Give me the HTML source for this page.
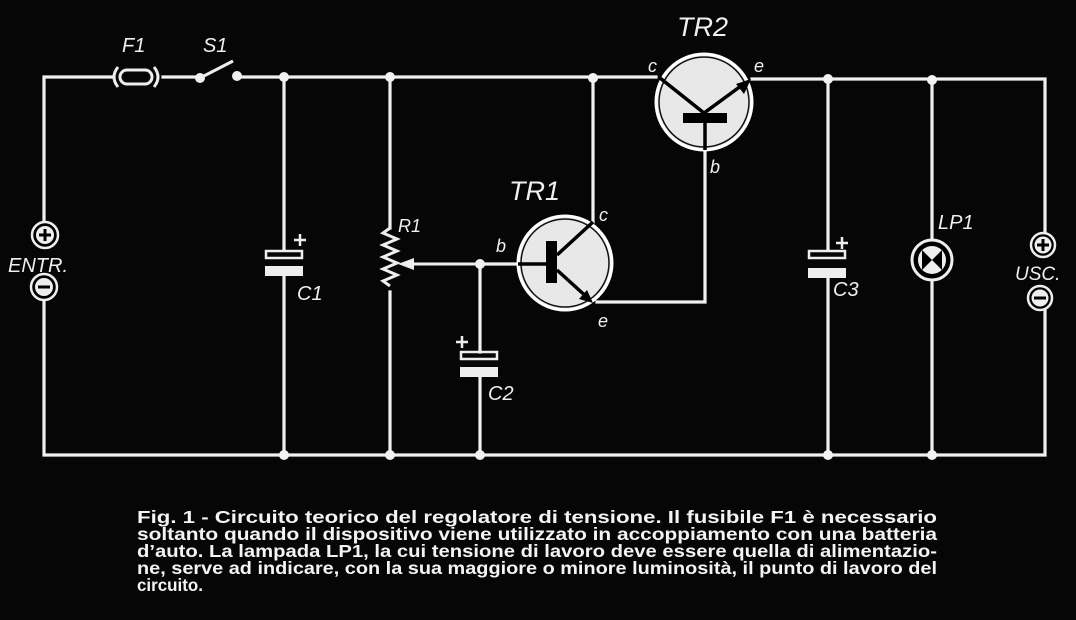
<!DOCTYPE html>
<html><head><meta charset="utf-8"><style>
html,body{margin:0;padding:0;background:#050505;}
svg{display:block}
</style></head><body>
<svg width="1076" height="620" viewBox="0 0 1076 620" xmlns="http://www.w3.org/2000/svg">
<rect width="1076" height="620" fill="#060606"/>
<g fill="none" stroke-linecap="square" stroke="#f0f0f0" stroke-width="3.2">
<path d="M44 225V77H112M163 77H200M237 77H656M752 79H1045V231M1045 310V455H44V300"/>
<path d="M284 77V250M284 276V455"/>
<path d="M390 77V228M390 292V455"/>
<path d="M593 78V222"/>
<path d="M828 79V250M828 276V455"/>
<path d="M932 80V240M932 280V455"/>
<path d="M480 264H518M480 264V352M480 377V455"/>
<path d="M597 302H705V150"/>
</g>
<g fill="#f2f2f2">
<circle cx="284" cy="77" r="5"/><circle cx="390" cy="77" r="5"/><circle cx="593" cy="78" r="5"/>
<circle cx="828" cy="79" r="5"/><circle cx="932" cy="80" r="5"/>
<circle cx="284" cy="455" r="5"/><circle cx="390" cy="455" r="5"/><circle cx="480" cy="455" r="5"/>
<circle cx="828" cy="455" r="5"/><circle cx="932" cy="455" r="5"/><circle cx="480" cy="264" r="5"/>
<circle cx="200" cy="78" r="5"/><circle cx="237" cy="76" r="5"/>
</g>
<g stroke="#eee" stroke-width="3" fill="none">
<rect x="120" y="70" width="32" height="14" rx="7"/>
<path d="M118 67 Q110 77 118 87M154 67 Q162 77 154 87"/>
<path d="M200 78L233 61"/>
</g>
<g stroke="#eee" stroke-width="2.5" fill="none">
<rect x="266" y="251" width="36" height="7"/>
<rect x="809" y="251" width="36" height="7"/>
<rect x="461" y="352" width="36" height="7"/>
<path d="M294 240h12M300 234v12M836 243h12M842 237v12M456 342h12M462 336v12"/>
</g>
<g fill="#eee">
<rect x="265" y="266" width="38" height="10"/>
<rect x="808" y="268" width="38" height="10"/>
<rect x="460" y="367" width="38" height="10"/>
</g>
<path d="M390 228 l-7 5 l14 6 l-14 6 l14 6 l-14 6 l14 6 l-14 6 l14 6 l-14 6 l7 5" stroke="#eee" stroke-width="3" fill="none"/>
<path d="M480 264H410" stroke="#eee" stroke-width="3"/>
<path d="M398 264l16-6v12z" fill="#eee"/>
<circle cx="565" cy="263" r="47" fill="#e8e8e8" stroke="#fff" stroke-width="3"/>
<circle cx="565" cy="263" r="44" fill="none" stroke="#111" stroke-width="1.5"/>
<g stroke="#000" stroke-width="3.5" fill="none">
<path d="M518 264H548M557 255L593 222M557 270L590 300"/>
</g>
<rect x="546" y="241" width="11" height="42" fill="#000"/>
<path d="M593 303l-14-4 8-9z" fill="#000"/>
<circle cx="704" cy="102" r="48" fill="#e8e8e8" stroke="#fff" stroke-width="3"/>
<circle cx="704" cy="102" r="45" fill="none" stroke="#111" stroke-width="1.5"/>
<g stroke="#000" stroke-width="3.5" fill="none">
<path d="M660 78L704 113L745 83M705 123V150"/>
</g>
<rect x="683" y="113" width="44" height="10" fill="#000"/>
<path d="M751 79l-7 15-8-10z" fill="#000"/>
<circle cx="932" cy="260" r="20" fill="#000" stroke="#eee" stroke-width="3"/>
<circle cx="932" cy="260" r="14" fill="#eee"/>
<path d="M922 250L942 270V250L922 270z" fill="#000"/>
<g stroke="#eee" stroke-width="2.5" fill="#000">
<circle cx="45" cy="235" r="13"/><circle cx="44" cy="287" r="13"/>
<circle cx="1043" cy="245" r="12"/><circle cx="1040" cy="298" r="12"/>
</g>
<g fill="#eee">
<circle cx="45" cy="235" r="9"/><circle cx="44" cy="287" r="9"/>
<circle cx="1043" cy="245" r="8.5"/><circle cx="1040" cy="298" r="8.5"/>
</g>
<g stroke="#000" stroke-width="3">
<path d="M39 235h12M45 229v12M38 287h12M1037 245h12M1043 239v12M1034 298h12"/>
</g>
<g fill="#f0f0f0" font-family="Liberation Sans, sans-serif" font-style="italic">
<text x="122" y="52" font-size="20">F1</text>
<text x="203" y="52" font-size="20">S1</text>
<text x="8" y="272" font-size="20">ENTR.</text>
<text x="297" y="300" font-size="20">C1</text>
<text x="398" y="232" font-size="18">R1</text>
<text x="496" y="252" font-size="18">b</text>
<text x="599" y="221" font-size="18">c</text>
<text x="598" y="327" font-size="18">e</text>
<text x="509" y="200" font-size="27">TR1</text>
<text x="677" y="36" font-size="27">TR2</text>
<text x="648" y="72" font-size="18">c</text>
<text x="754" y="72" font-size="18">e</text>
<text x="710" y="173" font-size="18">b</text>
<text x="488" y="400" font-size="20">C2</text>
<text x="833" y="296" font-size="20">C3</text>
<text x="938" y="229" font-size="20">LP1</text>
<text x="1015" y="280" font-size="19">USC.</text>
</g>
<g fill="#f4f4f4" font-family="Liberation Sans Narrow, Liberation Sans, sans-serif" font-weight="bold" font-size="17.5">
<text x="137" y="523" textLength="800" lengthAdjust="spacingAndGlyphs">Fig. 1 - Circuito teorico del regolatore di tensione. Il fusibile F1 è necessario</text>
<text x="137" y="540" textLength="800" lengthAdjust="spacingAndGlyphs">soltanto quando il dispositivo viene utilizzato in accoppiamento con una batteria</text>
<text x="137" y="557" textLength="800" lengthAdjust="spacingAndGlyphs">d’auto. La lampada LP1, la cui tensione di lavoro deve essere quella di alimentazio-</text>
<text x="137" y="574" textLength="800" lengthAdjust="spacingAndGlyphs">ne, serve ad indicare, con la sua maggiore o minore luminosità, il punto di lavoro del</text>
<text x="137" y="591" textLength="66" lengthAdjust="spacingAndGlyphs">circuito.</text>
</g>
</svg>
</body></html>
